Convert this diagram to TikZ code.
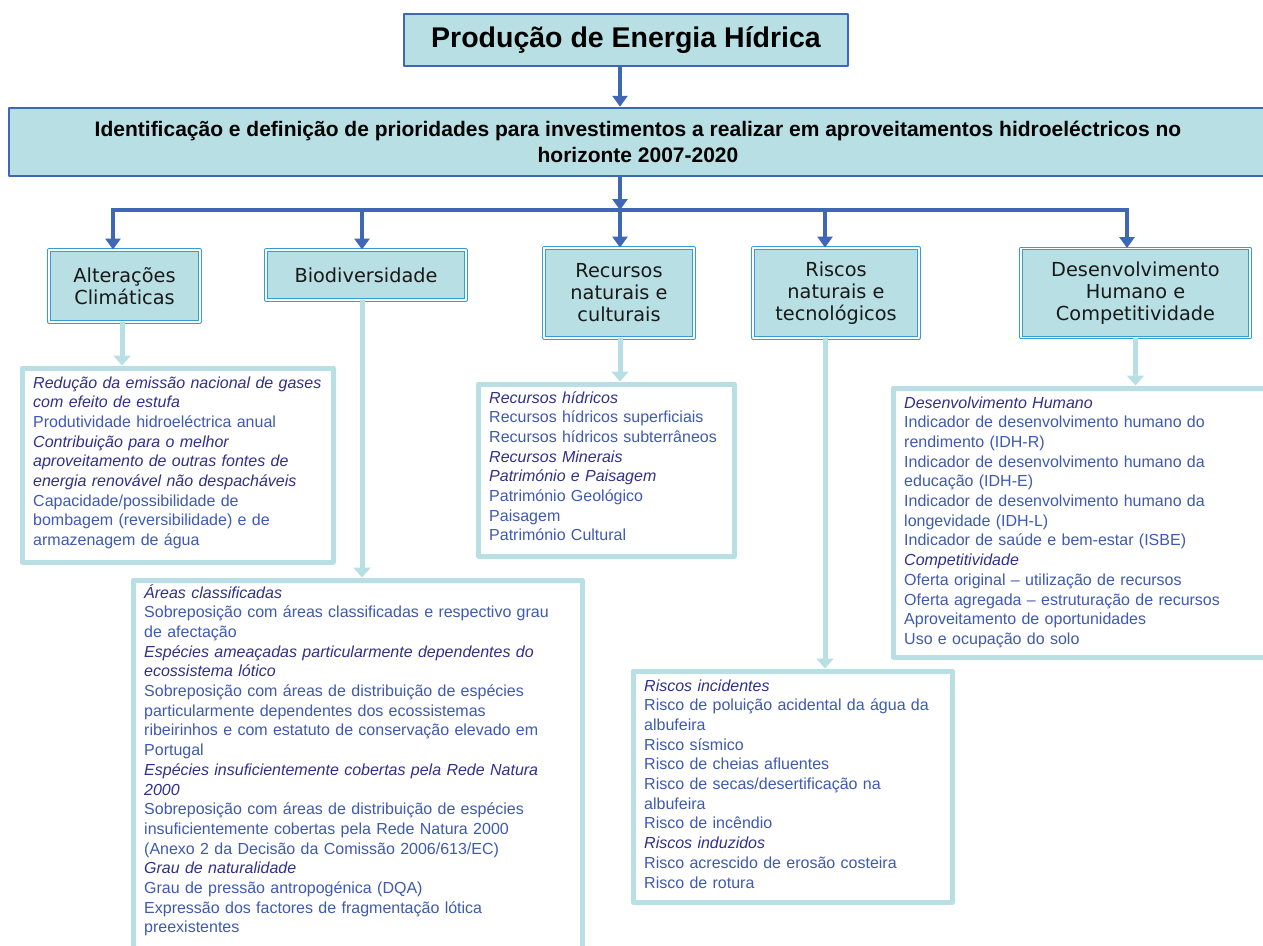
\documentclass[tikz,border=0pt]{standalone}
\usepackage{fontspec}
\setmainfont{Liberation Sans}
\newfontfamily\catfont{DejaVu Sans}
\usetikzlibrary{arrows.meta,positioning}
\definecolor{boxfill}{RGB}{184,223,227}
\definecolor{darkb}{RGB}{64,102,182}
\definecolor{catline}{RGB}{52,158,212}
\definecolor{headc}{RGB}{48,48,140}
\definecolor{itemc}{RGB}{62,90,178}
\newcommand{\hdr}[1]{{\color{headc}\itshape #1}}
\begin{document}
\begin{tikzpicture}[x=1pt,y=-1pt,line join=round,
	topbox/.style={draw=darkb,line width=2.5pt,fill=boxfill,align=center,inner sep=0pt},
	catbox/.style={draw=catline,double=white,double distance=1.4pt,line width=0.9pt,fill=boxfill,align=center,inner sep=0pt,text=black!90,font=\catfont\fontsize{19.3}{22}\selectfont},
	detbox/.style={draw=boxfill,line width=5pt,fill=white,anchor=north west,inner sep=0pt},
	dettext/.style={anchor=base west,align=left,text width=440pt,inner sep=0pt,text=itemc,font=\fontsize{16}{19.7}\selectfont},
	barrow/.style={draw=darkb,line width=4pt,-{Triangle[width=15pt,length=11pt]}},
	larrow/.style={draw=boxfill,line width=5pt,-{Triangle[width=17pt,length=10pt]}}]
	\clip(0,0)rectangle(1263,945);
	\node[topbox,minimum width=444pt,minimum height=52pt,font=\fontsize{28.5}{32}\bfseries](prod)at(626,40){Produção de Energia Hídrica};
	\node[topbox,minimum width=1258pt,minimum height=68pt,font=\fontsize{21}{26}\bfseries](ident)at(638,142){Identificação e definição de prioridades para investimentos a realizar em aproveitamentos hidroeléctricos no\\horizonte 2007-2020};
	\node[catbox,minimum width=151pt,minimum height=72pt](alt)at(124.5,286){Alterações\\Climáticas};
	\node[catbox,minimum width=200pt,minimum height=50pt](bio)at(366,275){Biodiversidade};
	\node[catbox,minimum width=150pt,minimum height=90pt](rec)at(619,293){Recursos\\naturais e\\culturais};
	\node[catbox,minimum width=166pt,minimum height=90pt](ris)at(836,293){Riscos\\naturais e\\tecnológicos};
	\node[catbox,minimum width=229pt,minimum height=89pt](des)at(1135.5,293){Desenvolvimento\\Humano e\\Competitividade};
	\node[detbox,minimum width=311pt,minimum height=194pt](altd)at(19.5,365.5){};
	\node[detbox,minimum width=256pt,minimum height=172pt](recd)at(475.5,381.5){};
	\node[detbox,minimum width=449pt,minimum height=383pt](biod)at(130.5,577.5){};
	\node[detbox,minimum width=319pt,minimum height=231pt](risd)at(630.5,668.5){};
	\node[detbox,minimum width=385pt,minimum height=269pt](desd)at(890.5,385.5){};
	\coordinate(bus)at(620,210);
	\draw[barrow](prod.south-|bus)--(ident.north-|bus);
	\draw[barrow](ident.south-|bus)--(bus);
	\foreach \x/\n in{113/alt,362/bio,620/rec,825/ris,1127/des}{
		\coordinate(a-\n)at(\x,210);
		\draw[barrow](a-\n)--(a-\n|-\n.north);}
	\draw[darkb,line width=4pt,line cap=rect](a-alt)--(a-des);
	\foreach \n/\s in{alt/-2.5,bio/-4,rec/1,ris/-11,des/0}
	\draw[larrow]([xshift=\s pt]\n.south)--([xshift=\s pt]\n.south|-\n d.north);
	\node[dettext](altt)at(33,388){\hdr{Redução da emissão nacional de gases}\\
		\hdr{com efeito de estufa}\\
		Produtividade hidroeléctrica anual\\
		\hdr{Contribuição para o melhor}\\
		\hdr{aproveitamento de outras fontes de}\\
		\hdr{energia renovável não despacháveis}\\
		Capacidade/possibilidade de\\
		bombagem (reversibilidade) e de\\
		armazenagem de água};
	\node[dettext](rect)at(489,403){\hdr{Recursos hídricos}\\
		Recursos hídricos superficiais\\
		Recursos hídricos subterrâneos\\
		\hdr{Recursos Minerais}\\
		\hdr{Património e Paisagem}\\
		Património Geológico\\
		Paisagem\\
		Património Cultural};
	\node[dettext](biot)at(144,598){\hdr{Áreas classificadas}\\
		Sobreposição com áreas classificadas e respectivo grau\\
		de afectação\\
		\hdr{Espécies ameaçadas particularmente dependentes do}\\
		\hdr{ecossistema lótico}\\
		Sobreposição com áreas de distribuição de espécies\\
		particularmente dependentes dos ecossistemas\\
		ribeirinhos e com estatuto de conservação elevado em\\
		Portugal\\
		\hdr{Espécies insuficientemente cobertas pela Rede Natura}\\
		\hdr{2000}\\
		Sobreposição com áreas de distribuição de espécies\\
		insuficientemente cobertas pela Rede Natura 2000\\
		(Anexo 2 da Decisão da Comissão 2006/613/EC)\\
		\hdr{Grau de naturalidade}\\
		Grau de pressão antropogénica (DQA)\\
		Expressão dos factores de fragmentação lótica\\
		preexistentes};
	\node[dettext](rist)at(644,691){\hdr{Riscos incidentes}\\
		Risco de poluição acidental da água da\\
		albufeira\\
		Risco sísmico\\
		Risco de cheias afluentes\\
		Risco de secas/desertificação na\\
		albufeira\\
		Risco de incêndio\\
		\hdr{Riscos induzidos}\\
		Risco acrescido de erosão costeira\\
		Risco de rotura};
	\node[dettext](dest)at(904,408){\hdr{Desenvolvimento Humano}\\
		Indicador de desenvolvimento humano do\\
		rendimento (IDH-R)\\
		Indicador de desenvolvimento humano da\\
		educação (IDH-E)\\
		Indicador de desenvolvimento humano da\\
		longevidade (IDH-L)\\
		Indicador de saúde e bem-estar (ISBE)\\
		\hdr{Competitividade}\\
		Oferta original -- utilização de recursos\\
		Oferta agregada -- estruturação de recursos\\
		Aproveitamento de oportunidades\\
		Uso e ocupação do solo};
\end{tikzpicture}
\end{document}
